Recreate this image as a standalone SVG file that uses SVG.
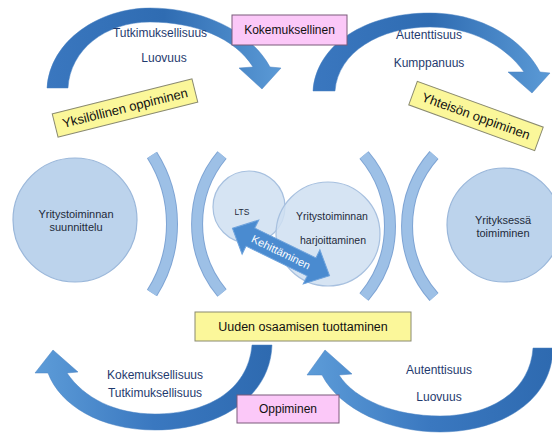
<svg xmlns="http://www.w3.org/2000/svg" width="552" height="434" viewBox="0 0 552 434">
<style>
text{font-family:"Liberation Sans","Arial",sans-serif;}
.arc-label{font-size:12px;fill:#1f3a6e;text-anchor:middle;}
.box-label{font-size:12.5px;fill:#111;text-anchor:middle;}
.circ-label{font-size:11px;fill:#1e2a3a;text-anchor:middle;}
.yellow{fill:#fbf79a;stroke:#8a8a70;stroke-width:1;}
.pink{fill:#fbc8f8;stroke:#7a5a7a;stroke-width:1;}
.big-circle{fill:#bcd3ec;stroke:#9ab7da;stroke-width:1.2;}
.small-circle{fill:#cfdff1;fill-opacity:0.85;stroke:#a7c0df;stroke-width:1.2;}
.bracket-out{fill:none;stroke:#7ea4d4;stroke-width:12;}
.bracket-in{fill:none;stroke:#9dc0e6;stroke-width:10;}
.big-arrow{stroke:#4a82c2;stroke-width:0.5;}
</style>
<defs>
<linearGradient id="gTop" x1="0" y1="0" x2="1" y2="0">
<stop offset="0" stop-color="#3a77bf"/>
<stop offset="0.5" stop-color="#2f6cb2"/>
<stop offset="1" stop-color="#5b9ad6"/>
</linearGradient>
<linearGradient id="gBot" x1="1" y1="0" x2="0" y2="0">
<stop offset="0" stop-color="#2e6ab0"/>
<stop offset="0.5" stop-color="#3a78c0"/>
<stop offset="1" stop-color="#5d9cd8"/>
</linearGradient>
</defs>
<rect width="552" height="434" fill="#ffffff"/>

<g id="connectors">
<path id="arc-top-left" class="big-arrow" fill="url(#gTop)" d="M47,88 C50,40 100,8 150,8 C200,8 250,30 270,67 L281,68 L262,89 L239,68 L253,67 C235,38 195,22 150,22 C105,22 70,50 68,88 Z"/>
<path id="arc-top-right" class="big-arrow" fill="url(#gTop)" d="M313,91 C316,45 365,13 430,13 C480,13 522,38 540,72 L550,73 L532,93 L508,72 L524,72 C505,45 470,27 430,27 C380,27 338,52 335,91 Z"/>
<path id="arc-bottom-left" class="big-arrow" fill="url(#gBot)" d="M272,345 C270,400 215,430 155,430 C100,430 60,405 48,373 L35,373 L53,350 L78,372 L67,373 C84,398 115,414 155,414 C205,414 248,392 252,345 Z"/>
<path id="arc-bottom-right" class="big-arrow" fill="url(#gBot)" d="M553,348 C552,405 495,432 440,432 C390,432 340,410 322,375 L307,375 L325,350 L352,374 L339,375 C355,400 395,416 440,416 C490,416 530,392 533,348 Z"/>
</g>

<g id="brackets">
<path class="bracket-out" d="M152,155 A129,129 0 0 1 152,293"/>
<path class="bracket-in" d="M152,155 A129,129 0 0 1 152,293"/>
<path class="bracket-out" d="M222,155 A108,108 0 0 0 222,293"/>
<path class="bracket-in" d="M222,155 A108,108 0 0 0 222,293"/>
<path class="bracket-out" d="M364,155 A110,110 0 0 1 364,297"/>
<path class="bracket-in" d="M364,155 A110,110 0 0 1 364,297"/>
<path class="bracket-out" d="M434,155 A107,107 0 0 0 434,297"/>
<path class="bracket-in" d="M434,155 A107,107 0 0 0 434,297"/>
</g>

<g id="node-suunnittelu">
<circle class="big-circle" cx="75" cy="220" r="62"/>
<text class="circ-label" x="76" y="218">Yritystoiminnan</text>
<text class="circ-label" x="76" y="231">suunnittelu</text>
</g>

<g id="node-toimiminen">
<circle class="big-circle" cx="504" cy="225" r="57"/>
<text class="circ-label" x="503" y="224">Yrityksessä</text>
<text class="circ-label" x="503" y="237">toimiminen</text>
</g>

<g id="node-lts">
<circle class="small-circle" cx="249" cy="207" r="36"/>
<text class="circ-label" x="242" y="215" style="font-size:8.5px">LTS</text>
</g>

<g id="node-harjoittaminen">
<circle class="small-circle" cx="328" cy="234" r="52"/>
<text class="circ-label" x="332" y="220" style="font-size:10.5px">Yritystoiminnan</text>
<text class="circ-label" x="333" y="244" style="font-size:10.5px">harjoittaminen</text>
</g>

<g id="node-kehittaminen" transform="translate(281,252) rotate(26)">
<path fill="#4a8bd0" stroke="#6fa3dc" stroke-width="1" d="M-54,0 L-34,-19 L-34,-10 L34,-10 L34,-19 L54,0 L34,19 L34,10 L-34,10 L-34,19 Z"/>
<text x="0" y="4" text-anchor="middle" fill="#ffffff" style="font-size:11px">Kehittäminen</text>
</g>

<g id="node-kokemuksellinen">
<rect class="pink" x="232" y="15" width="115" height="30"/>
<text class="box-label" x="289.5" y="34" style="font-size:12px">Kokemuksellinen</text>
</g>

<g id="node-oppiminen">
<rect class="pink" x="237" y="395" width="102" height="28"/>
<text class="box-label" x="288" y="413" style="font-size:12px">Oppiminen</text>
</g>

<g id="node-uuden">
<rect class="yellow" x="195" y="312" width="216" height="29"/>
<text class="box-label" x="303" y="331">Uuden osaamisen tuottaminen</text>
</g>

<g id="node-yksilollinen" transform="translate(125,108) rotate(-14)">
<rect class="yellow" x="-72" y="-12" width="144" height="24"/>
<text class="box-label" x="0" y="4.5" style="font-size:13px">Yksilöllinen oppiminen</text>
</g>

<g id="node-yhteison" transform="translate(476,116) rotate(20)">
<rect class="yellow" x="-67" y="-12.5" width="134" height="25"/>
<text class="box-label" x="0" y="4.5" style="font-size:13px">Yhteisön oppiminen</text>
</g>

<g id="labels">
<text class="arc-label" x="160" y="37">Tutkimuksellisuus</text>
<text class="arc-label" x="164" y="62">Luovuus</text>
<text class="arc-label" x="429" y="39">Autenttisuus</text>
<text class="arc-label" x="429" y="67">Kumppanuus</text>
<text class="arc-label" x="155" y="379">Kokemuksellisuus</text>
<text class="arc-label" x="155" y="397">Tutkimuksellisuus</text>
<text class="arc-label" x="439" y="374">Autenttisuus</text>
<text class="arc-label" x="439" y="401">Luovuus</text>
</g>
</svg>
